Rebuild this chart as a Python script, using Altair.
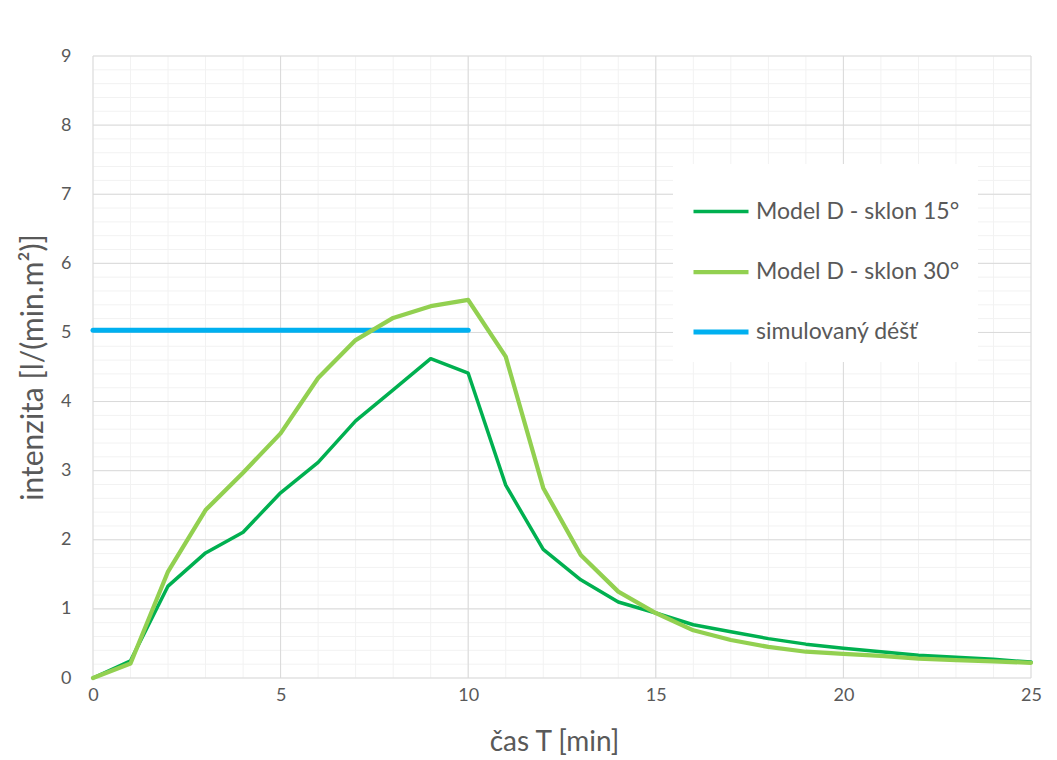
import altair as alt
import pandas as pd

# ---- data ----
t_model = list(range(0, 26))
sklon15 = [0.0, 0.25, 1.33, 1.81, 2.11, 2.68, 3.12, 3.72, 4.17, 4.62, 4.41,
           2.79, 1.86, 1.42, 1.10, 0.94, 0.77, 0.67, 0.57, 0.49, 0.43,
           0.38, 0.33, 0.30, 0.27, 0.23]
sklon30 = [0.0, 0.21, 1.54, 2.43, 2.97, 3.54, 4.34, 4.89, 5.21, 5.38, 5.47,
           4.65, 2.75, 1.78, 1.25, 0.94, 0.69, 0.55, 0.45, 0.38, 0.35,
           0.32, 0.28, 0.26, 0.24, 0.22]
t_rain = [0, 10]
rain = [5.03, 5.03]

series_names = ["Model D - sklon 15°", "Model D - sklon 30°", "simulovaný déšť"]
series_colors = ["#00B050", "#92D050", "#00B0F0"]
series_widths = [3.5, 5, 3.5]

x_major = [0, 5, 10, 15, 20, 25]
x_minor = list(range(0, 26))
y_major = list(range(0, 10))
y_minor = [round(i * 0.2, 1) for i in range(0, 46)]

FONT = "Lato"
TXT = "#595959"

df15 = pd.DataFrame({"t": t_model, "v": sklon15, "s": series_names[0]})
df30 = pd.DataFrame({"t": t_model, "v": sklon30, "s": series_names[1]})
dfr = pd.DataFrame({"t": t_rain, "v": rain, "s": series_names[2]})

xs = alt.Scale(domain=[0, 25], nice=False, zero=False)
ys = alt.Scale(domain=[0, 9], nice=False, zero=False)

legend_opts = dict(title=None, orient="none", legendX=580, legendY=108,
                   fillColor="white", padding=18, rowPadding=18,
                   symbolType="stroke", symbolSize=3025,
                   labelFont=FONT, labelFontSize=23, labelColor=TXT,
                   labelOffset=5, labelLimit=400)

color = alt.Color("s:N", scale=alt.Scale(domain=series_names, range=series_colors),
                  legend=alt.Legend(**legend_opts))
sw = alt.StrokeWidth("s:N", scale=alt.Scale(domain=series_names, range=series_widths),
                     legend=alt.Legend(**legend_opts))

xaxis = alt.Axis(values=x_major, grid=False, ticks=False, domain=False, labelFlush=False,
                 labelFont=FONT, labelFontSize=18, labelColor=TXT, labelPadding=8,
                 title="čas T [min]", titleFont=FONT, titleFontSize=28,
                 titleColor=TXT, titleFontWeight="normal", titlePadding=24, titleX=461)
yaxis = alt.Axis(values=y_major, grid=False, ticks=False, domain=False, labelFlush=False,
                 format="d",
                 labelFont=FONT, labelFontSize=18, labelColor=TXT, labelPadding=22,
                 title="intenzita [l/(min.m²)]", titleFont=FONT, titleFontSize=30,
                 titleColor=TXT, titleFontWeight="normal", titlePadding=12)

gx_minor = alt.Chart(pd.DataFrame({"g": x_minor})).mark_rule(color="#F2F2F2", strokeWidth=1).encode(
    x=alt.X("g:Q", scale=xs, axis=xaxis))
gy_minor = alt.Chart(pd.DataFrame({"g": y_minor})).mark_rule(color="#F2F2F2", strokeWidth=1).encode(
    y=alt.Y("g:Q", scale=ys, axis=yaxis))
gx_major = alt.Chart(pd.DataFrame({"g": x_major})).mark_rule(color="#D9D9D9", strokeWidth=1).encode(
    x=alt.X("g:Q", scale=xs))
gy_major = alt.Chart(pd.DataFrame({"g": y_major})).mark_rule(color="#D9D9D9", strokeWidth=1).encode(
    y=alt.Y("g:Q", scale=ys))


def line(df):
    return alt.Chart(df).mark_line(strokeJoin="round", strokeCap="round").encode(
        x=alt.X("t:Q", scale=xs),
        y=alt.Y("v:Q", scale=ys),
        color=color,
        strokeWidth=sw,
    )


chart = alt.layer(
    gx_minor, gy_minor, gx_major, gy_major,
    line(dfr), line(df15), line(df30),
).properties(
    width=938, height=622,
    autosize=alt.AutoSizeParams(type="none"),
    padding={"left": 85, "top": 48, "right": 18, "bottom": 82},
).configure_view(stroke=None)

chart.save("out.html", embed_options={"renderer": "svg", "actions": False})
